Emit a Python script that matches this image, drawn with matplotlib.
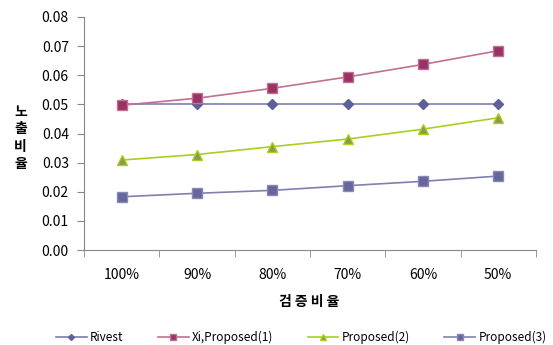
import matplotlib
matplotlib.use("Agg")
import matplotlib.pyplot as plt
import numpy as np

plt.rcParams['font.family'] = ['Noto Sans CJK KR', 'DejaVu Sans']

# data
ratios = ["100%", "90%", "80%", "70%", "60%", "50%"]
rivest = [0.050, 0.050, 0.050, 0.050, 0.050, 0.050]
xi_proposed1 = [0.0497, 0.0521, 0.0555, 0.0594, 0.0637, 0.0684]
proposed2 = [0.0309, 0.0328, 0.0355, 0.0381, 0.0415, 0.0454]
proposed3 = [0.0183, 0.0195, 0.0205, 0.0221, 0.0236, 0.0254]

fig = plt.figure(figsize=(5.53, 3.45), dpi=100)
ax = fig.add_axes([0.152, 0.275, 0.817, 0.676])

x = np.arange(len(ratios))
ax.plot(x, rivest, color="#7B7BB0", marker="D", markersize=5, markerfacecolor="#5F5F9A",
        markeredgecolor="#5F5F9A", lw=1.2, label="Rivest")
ax.plot(x, xi_proposed1, color="#C07090", marker="s", markersize=7, markerfacecolor="#993366",
        markeredgecolor="#C07090", lw=1.2, label="Xi,Proposed(1)")
ax.plot(x, proposed2, color="#A8D020", marker="^", markersize=7, markerfacecolor="#8C9A50",
        markeredgecolor="#A8D020", lw=1.2, label="Proposed(2)")
ax.plot(x, proposed3, color="#8080B0", marker="s", markersize=7, markerfacecolor="#666699",
        markeredgecolor="#8888BB", lw=1.2, label="Proposed(3)")

ax.set_xlim(-0.5, len(ratios) - 0.5)
ax.set_ylim(0, 0.08)
ax.set_yticks(np.arange(0, 0.081, 0.01))
ax.set_yticklabels(["%.2f" % v for v in np.arange(0, 0.081, 0.01)], fontsize=10)
ax.set_xticks(x)
ax.set_xticklabels(ratios, fontsize=10)
ax.set_xticks(np.arange(-0.5, len(ratios), 1.0), minor=True)
ax.tick_params(axis="x", which="major", length=0, pad=13)
ax.tick_params(axis="x", which="minor", length=5, color="#888888", direction="out")
ax.tick_params(axis="y", length=5, color="#888888", direction="out", pad=6)
for s in ["top", "right"]:
    ax.spines[s].set_visible(False)
ax.spines["left"].set_color("#888888")
ax.spines["bottom"].set_color("#888888")

fig.text(0.037, 0.6, "노\n출\n비\n율", fontsize=10, fontweight="bold",
         ha="center", va="center", linespacing=1.3)
fig.text(0.56, 0.125, "검 증 비 율", fontsize=10, fontweight="bold", ha="center", va="center")

fig.legend(loc="center", bbox_to_anchor=(0.545, 0.022), ncol=4, frameon=False, fontsize=8.5,
           handlelength=2.6, columnspacing=2.9, handletextpad=0.3, markerscale=0.6,
           borderaxespad=0, borderpad=0)

fig.savefig("out.png", dpi=100)
